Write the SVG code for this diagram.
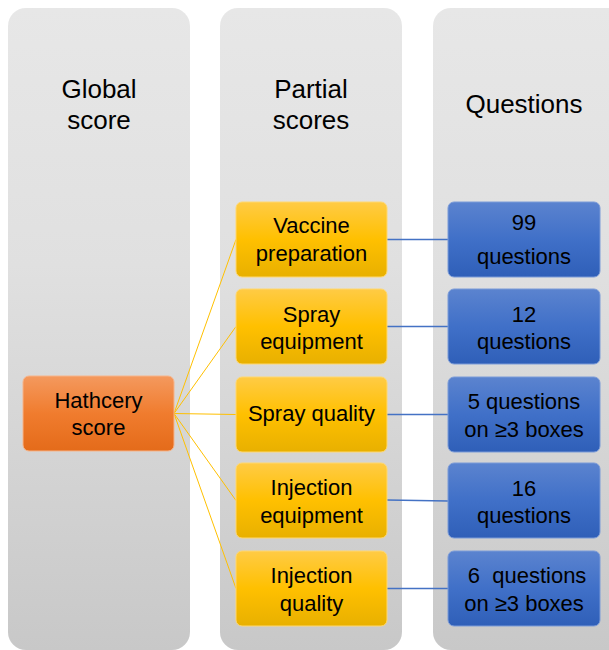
<svg xmlns="http://www.w3.org/2000/svg" width="609" height="650" viewBox="0 0 609 650">
<defs>
<linearGradient id="gCol" x1="0" y1="0" x2="0" y2="1"><stop offset="0" stop-color="#e7e7e7"/><stop offset="0.4" stop-color="#e0e0e0"/><stop offset="1" stop-color="#c8c8c8"/></linearGradient>
<linearGradient id="gOr" x1="0" y1="0" x2="0" y2="1"><stop offset="0" stop-color="#f4995e"/><stop offset="0.5" stop-color="#f07c2e"/><stop offset="1" stop-color="#e46b1a"/></linearGradient>
<linearGradient id="gYe" x1="0" y1="0" x2="0" y2="1"><stop offset="0" stop-color="#ffcb45"/><stop offset="0.5" stop-color="#ffc000"/><stop offset="1" stop-color="#e8b000"/></linearGradient>
<linearGradient id="gBl" x1="0" y1="0" x2="0" y2="1"><stop offset="0" stop-color="#5b83cf"/><stop offset="0.5" stop-color="#4070c8"/><stop offset="1" stop-color="#2f5fb8"/></linearGradient>
</defs>
<style>
text{font-family:"Liberation Sans",Arial,sans-serif;fill:#000;text-anchor:middle}
.col{fill:url(#gCol)}
.ttl{font-size:26px}
.nt{font-size:22px}
.pre{white-space:pre}
.or{fill:url(#gOr);stroke:#f6b48a;stroke-width:1}
.ye{fill:url(#gYe);stroke:#ffd870;stroke-width:1}
.bl{fill:url(#gBl);stroke:#7b9bd8;stroke-width:1}
.cy{stroke:#ffc000;stroke-width:1;fill:none}
.cb{stroke:#4472c4;stroke-width:1.5;fill:none}
</style>
<g id="col-global"><rect class="col" x="8" y="8" width="182" height="642" rx="18"/><text class="ttl" x="99" y="98">Global</text><text class="ttl" x="99" y="129">score</text></g>
<g id="col-partial"><rect class="col" x="220" y="8" width="182" height="642" rx="18"/><text class="ttl" x="311" y="98">Partial</text><text class="ttl" x="311" y="129">scores</text></g>
<g id="col-questions"><rect class="col" x="433" y="8" width="200" height="642" rx="18"/><text class="ttl" x="524" y="113">Questions</text></g>
<g id="connectors">
<line class="cy" x1="174" y1="413.5" x2="236" y2="239.5"/>
<line class="cy" x1="174" y1="413.5" x2="236" y2="326.5"/>
<line class="cy" x1="174" y1="413.5" x2="236" y2="414.5"/>
<line class="cy" x1="174" y1="413.5" x2="236" y2="500.5"/>
<line class="cy" x1="174" y1="413.5" x2="236" y2="588.5"/>
<line class="cb" x1="387" y1="239.5" x2="448" y2="239.5"/>
<line class="cb" x1="387" y1="326.5" x2="448" y2="326.5"/>
<line class="cb" x1="387" y1="414.5" x2="448" y2="414.5"/>
<line class="cb" x1="387" y1="500" x2="448" y2="501"/>
<line class="cb" x1="387" y1="588.5" x2="448" y2="588.5"/>
</g>
<g id="hatchery"><rect class="or" x="23" y="376" width="151" height="75" rx="6"/><text class="nt" x="98.5" y="408">Hathcery</text><text class="nt" x="98.5" y="435">score</text></g>
<g id="vaccine-prep"><rect class="ye" x="236" y="202" width="151" height="75" rx="6"/><text class="nt" x="311.5" y="233">Vaccine</text><text class="nt" x="311.5" y="261">preparation</text></g>
<g id="spray-equip"><rect class="ye" x="236" y="289" width="151" height="75" rx="6"/><text class="nt" x="311.5" y="322">Spray</text><text class="nt" x="311.5" y="349">equipment</text></g>
<g id="spray-quality"><rect class="ye" x="236" y="377" width="151" height="75" rx="6"/><text class="nt" x="311.5" y="421">Spray quality</text></g>
<g id="inj-equip"><rect class="ye" x="236" y="463" width="151" height="75" rx="6"/><text class="nt" x="311.5" y="495">Injection</text><text class="nt" x="311.5" y="523">equipment</text></g>
<g id="inj-quality"><rect class="ye" x="236" y="551" width="151" height="75" rx="6"/><text class="nt" x="311.5" y="583">Injection</text><text class="nt" x="311.5" y="611">quality</text></g>
<g id="q-99"><rect class="bl" x="448" y="202" width="152" height="75" rx="6"/><text class="nt" x="524" y="230">99</text><text class="nt" x="524" y="264">questions</text></g>
<g id="q-12"><rect class="bl" x="448" y="289" width="152" height="75" rx="6"/><text class="nt" x="524" y="322">12</text><text class="nt" x="524" y="349">questions</text></g>
<g id="q-5"><rect class="bl" x="448" y="377" width="152" height="75" rx="6"/><text class="nt" x="524" y="409">5 questions</text><text class="nt" x="524" y="437">on ≥3 boxes</text></g>
<g id="q-16"><rect class="bl" x="448" y="463" width="152" height="75" rx="6"/><text class="nt" x="524" y="496">16</text><text class="nt" x="524" y="523">questions</text></g>
<g id="q-6"><rect class="bl" x="448" y="551" width="152" height="75" rx="6"/><text class="nt pre" x="524" y="583"> 6  questions</text><text class="nt" x="524" y="611">on ≥3 boxes</text></g>
</svg>
